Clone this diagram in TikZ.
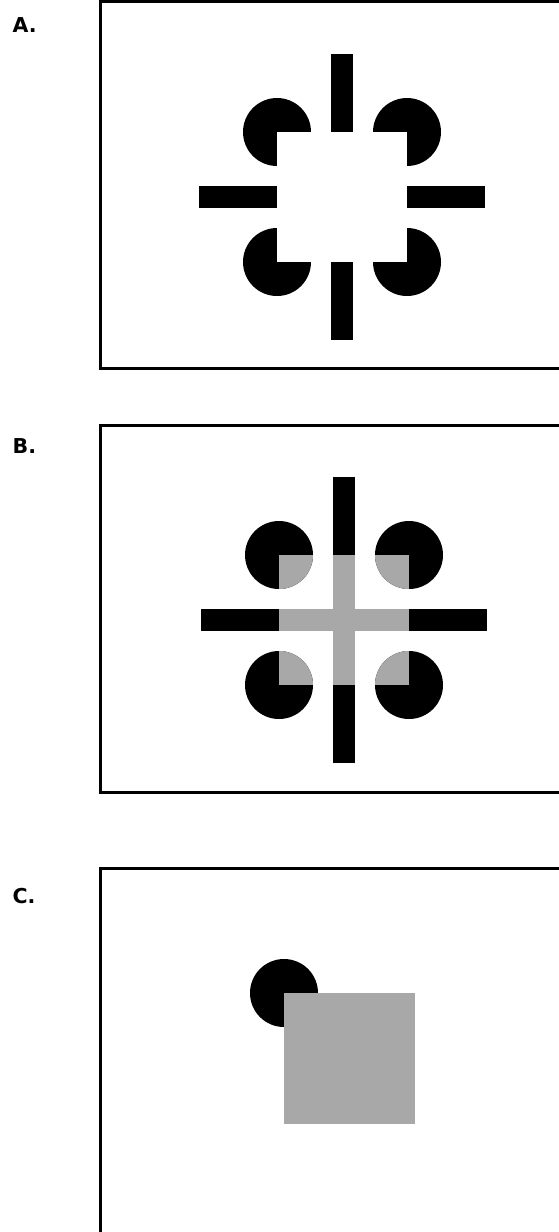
\documentclass[tikz,border=0pt]{standalone}
\usepackage{fontspec}
\newfontfamily\panelfont{DejaVu Sans}
\begin{document}
\begin{tikzpicture}[x=1pt, y=-1pt,
    panel/.style={draw=black, line width=3pt},
    letter/.style={font=\panelfont\bfseries\fontsize{20.5}{24}\selectfont, inner sep=0pt, anchor=base west}]
    \definecolor{c1}{RGB}{168, 168, 168} % Gray

    \clip (0, 0) rectangle (559, 1232);

    % Frames
    \draw[panel] (100, 1.5) rectangle (640, 368);
    \draw[panel] (100, 425) rectangle (640, 792);
    \draw[panel] (100, 868.5) rectangle (640, 1300);

    % Labels
    \node[letter] (labA) at (12.5, 32) {A.};
    \node[letter] (labB) at (12.5, 453) {B.};
    \node[letter] (labC) at (12.5, 903) {C.};

    % Panel A
    \begin{scope}[shift={(342, 197)}]
        % Bars
        \fill (-11, -143) rectangle (11, -65);
        \fill (-11, 65) rectangle (11, 143);
        \fill (-143, -11) rectangle (-65, 11);
        \fill (65, -11) rectangle (143, 11);
        % Pacmen
        \fill (-65, -65) circle (34);
        \fill (65, -65) circle (34);
        \fill (-65, 65) circle (34);
        \fill (65, 65) circle (34);
        \fill[white] (-65, -65) rectangle (-30, -30);
        \fill[white] (65, -65) rectangle (30, -30);
        \fill[white] (-65, 65) rectangle (-30, 30);
        \fill[white] (65, 65) rectangle (30, 30);
    \end{scope}

    % Panel B
    \begin{scope}[shift={(344, 620)}]
        % Gray cross
        \fill[c1] (-11, -65) rectangle (11, 65);
        \fill[c1] (-65, -11) rectangle (65, 11);
        % Bars
        \fill (-11, -143) rectangle (11, -65);
        \fill (-11, 65) rectangle (11, 143);
        \fill (-143, -11) rectangle (-65, 11);
        \fill (65, -11) rectangle (143, 11);
        % Pacmen
        \fill (-65, -65) circle (34);
        \fill (65, -65) circle (34);
        \fill (-65, 65) circle (34);
        \fill (65, 65) circle (34);
        \begin{scope}
            \clip (-65, -65) circle (34);
            \fill[c1] (-65, -65) rectangle (-30, -30);
        \end{scope}
        \begin{scope}
            \clip (65, -65) circle (34);
            \fill[c1] (65, -65) rectangle (30, -30);
        \end{scope}
        \begin{scope}
            \clip (-65, 65) circle (34);
            \fill[c1] (-65, 65) rectangle (-30, 30);
        \end{scope}
        \begin{scope}
            \clip (65, 65) circle (34);
            \fill[c1] (65, 65) rectangle (30, 30);
        \end{scope}
    \end{scope}

    % Panel C
    \fill (284, 993) circle (34);
    \fill[c1] (284, 993) rectangle (415, 1124);
\end{tikzpicture}
\end{document}
